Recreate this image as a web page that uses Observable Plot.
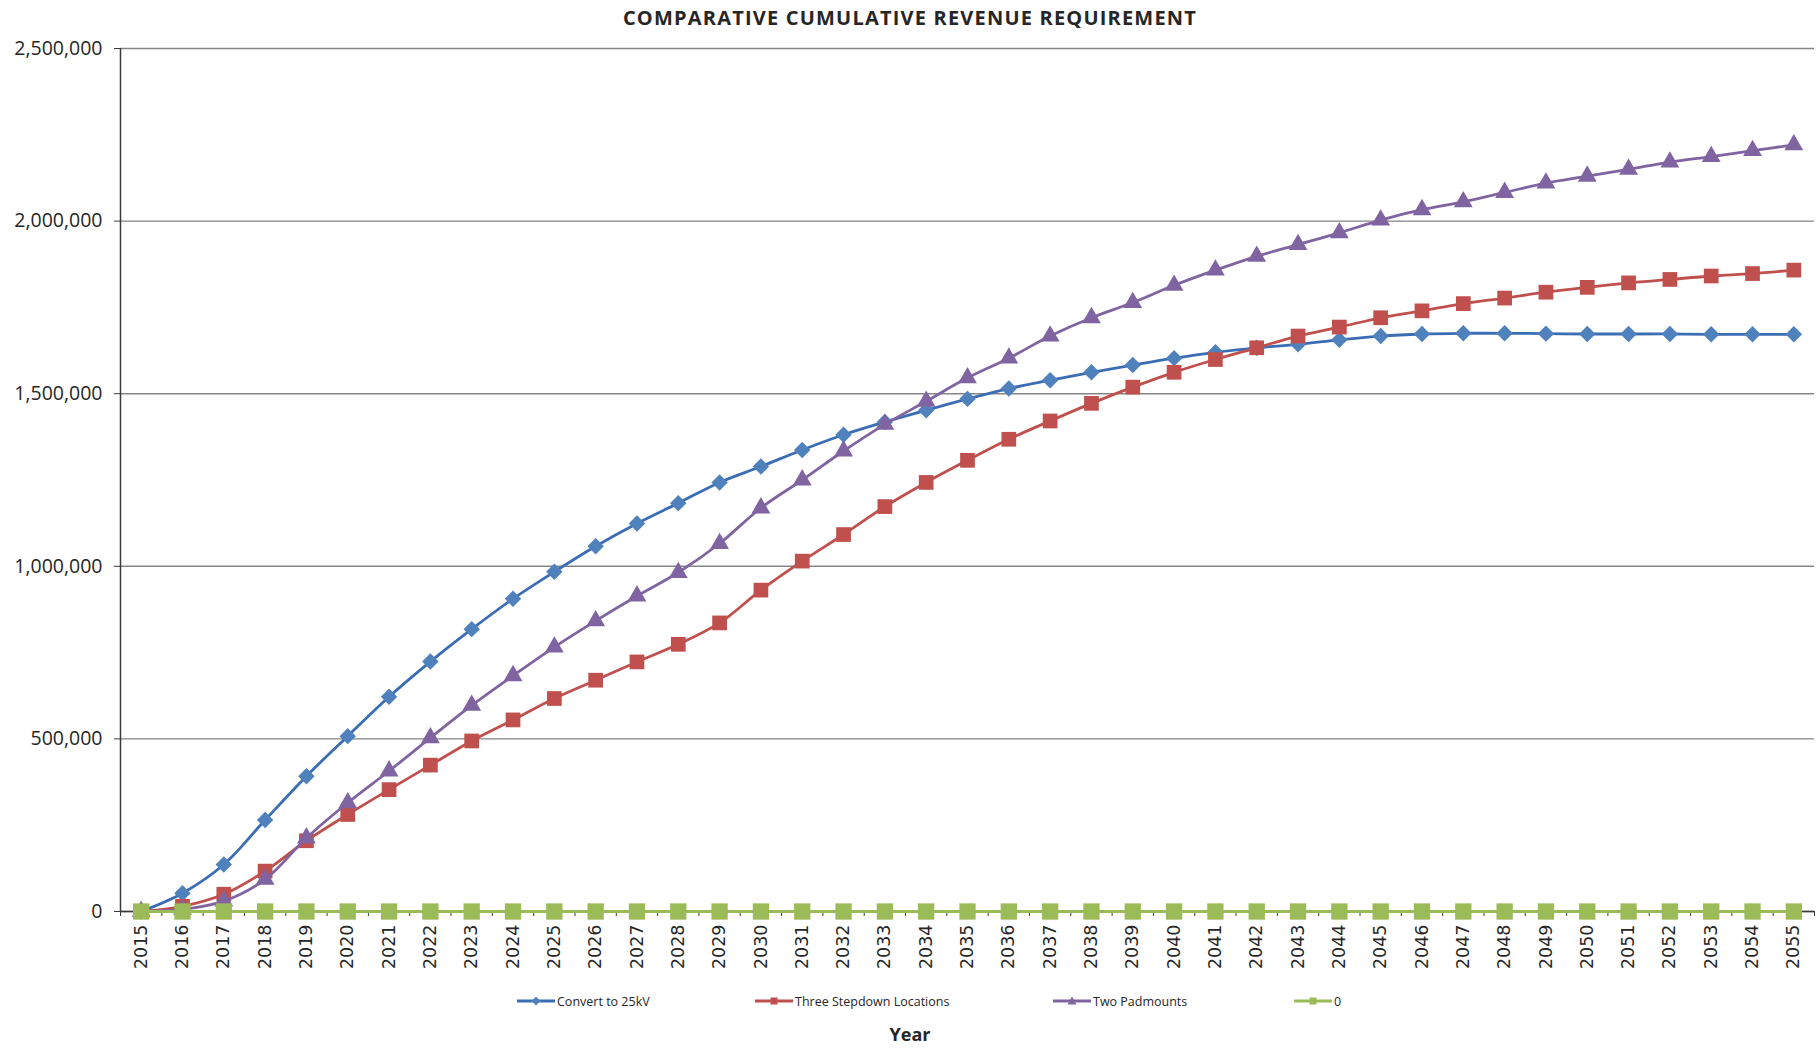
<!DOCTYPE html>
<html>
<head>
<meta charset="utf-8">
<script src="https://cdn.jsdelivr.net/npm/d3@7"></script>
<script src="https://cdn.jsdelivr.net/npm/@observablehq/plot@0.6"></script>
<style>
  html, body { margin: 0; padding: 0; background: #ffffff; }
  body { width: 1820px; height: 1049px; position: relative; overflow: hidden; }
  #title { position: absolute; left: 0; top: 4px; width: 1820px; height: 30px; line-height: 30px;
           text-align: center; font: bold 20px "Open Sans", sans-serif; letter-spacing: 1.2px; color: #262626; }
  #chart { position: absolute; left: 0; top: 34px; }
  .leg { position: absolute; top: 992px; height: 18px; display: flex; align-items: center;
         font: 12.5px "Open Sans", sans-serif; color: #262626; white-space: nowrap; }
  .leg svg { margin-right: 2px; }
  #xlabel { position: absolute; left: 0; top: 1022px; width: 1820px; text-align: center;
            font: bold 18px "Open Sans", sans-serif; color: #262626; }
</style>
</head>
<body>
<div id="title">COMPARATIVE CUMULATIVE REVENUE REQUIREMENT</div>
<div id="chart"></div>
<div id="legend"></div>
<div id="xlabel">Year</div>
<script>
const years = [2015, 2016, 2017, 2018, 2019, 2020, 2021, 2022, 2023, 2024, 2025, 2026, 2027, 2028,
  2029, 2030, 2031, 2032, 2033, 2034, 2035, 2036, 2037, 2038, 2039, 2040, 2041, 2042, 2043, 2044,
  2045, 2046, 2047, 2048, 2049, 2050, 2051, 2052, 2053, 2054, 2055];

const convertTo25kV = [0, 53000, 136000, 265000, 392000, 508000, 622000, 724000, 818000, 906000,
  984000, 1058000, 1124000, 1183000, 1243000, 1289000, 1337000, 1381000, 1418000, 1452000,
  1485000, 1515000, 1539000, 1562000, 1583000, 1603000, 1620000, 1633000, 1643000, 1656000,
  1667000, 1673000, 1675000, 1675000, 1674000, 1673000, 1673000, 1673000, 1672000, 1672000, 1672000];

const threeStepdown = [0, 15000, 50000, 117000, 205000, 281000, 353000, 424000, 494000, 555000,
  617000, 670000, 723000, 774000, 836000, 931000, 1015000, 1092000, 1173000, 1243000,
  1307000, 1368000, 1421000, 1472000, 1519000, 1562000, 1599000, 1633000, 1667000, 1693000,
  1720000, 1740000, 1761000, 1777000, 1794000, 1808000, 1821000, 1831000, 1841000, 1848000, 1858000];

const twoPadmounts = [0, 6000, 30000, 93000, 213000, 315000, 407000, 503000, 597000, 683000,
  766000, 842000, 914000, 982000, 1066000, 1169000, 1250000, 1334000, 1411000, 1478000,
  1546000, 1603000, 1667000, 1720000, 1764000, 1814000, 1858000, 1898000, 1932000, 1966000,
  2003000, 2033000, 2056000, 2083000, 2110000, 2130000, 2150000, 2171000, 2187000, 2204000, 2221000];

const zeroSeries = [0, 0, 0, 0, 0, 0, 0, 0, 0, 0, 0, 0, 0, 0, 0, 0, 0, 0, 0, 0,
  0, 0, 0, 0, 0, 0, 0, 0, 0, 0, 0, 0, 0, 0, 0, 0, 0, 0, 0, 0, 0];

const yTicks = [0, 500000, 1000000, 1500000, 2000000, 2500000];

const seriesNames = ["Convert to 25kV", "Three Stepdown Locations", "Two Padmounts", "0"];
const lineColors = ["#3a6db4", "#c0504d", "#8064a2", "#9bbb59"];
const markColors = ["#4f81bd", "#c0504d", "#8064a2", "#9bbb59"];
const symbols = ["diamond2", "square", "triangle", "square"];
const radii = [7.4, 8.3, 7, 9.2];

const seriesValues = [convertTo25kV, threeStepdown, twoPadmounts, zeroSeries];
const series = seriesValues.map((vals, i) => years.map((yr, j) => ({year: yr, value: vals[j], name: seriesNames[i]})));

const boundaries = years.map(y => y - 0.5).concat([years[years.length - 1] + 0.5]);

const marks = [
  Plot.gridY(yTicks, {stroke: "#858585", strokeOpacity: 1, strokeWidth: 1.4}),
  Plot.ruleX([boundaries[0]], {stroke: "#3a3a3a", strokeWidth: 1.5}),
  Plot.ruleY([0], {stroke: "#3a3a3a", strokeWidth: 1.5}),
  Plot.axisY(yTicks, {tickSize: 6, tickPadding: 12, tickFormat: d3.format(","), fontSize: 19.5,
    fontFamily: "Open Sans", fill: "#262626", stroke: "#3a3a3a", label: null}),
  Plot.axisX(boundaries, {tickSize: 5, tickFormat: () => "", stroke: "#3a3a3a", label: null}),
  Plot.axisX(years, {tickSize: 0, tickPadding: 13, tickRotate: -90, tickFormat: d => String(d),
    fontSize: 17.5, fontFamily: "DejaVu Sans", fill: "#262626", label: null})
];
series.forEach((data, i) => {
  marks.push(Plot.line(data, {x: "year", y: "value", stroke: lineColors[i], strokeWidth: 2.8,
    curve: "catmull-rom"}));
  marks.push(Plot.dot(data, {x: "year", y: "value", symbol: symbols[i], r: radii[i],
    fill: markColors[i], stroke: "none"}));
});

const chart = Plot.plot({
  width: 1820,
  height: 951,
  marginLeft: 120,
  marginRight: 6,
  marginTop: 14,
  marginBottom: 74,
  x: {type: "linear", domain: [boundaries[0], boundaries[boundaries.length - 1]]},
  y: {domain: [0, 2500000]},
  style: {background: "white", overflow: "visible"},
  marks
});
document.getElementById("chart").appendChild(chart);

// legend
const legendX = [517, 755, 1053, 1294];
const legendShapes = [
  '<path d="M19,1.5 L23.5,6 L19,10.5 L14.5,6 Z" />',
  '<rect x="15.5" y="2.5" width="7" height="7" />',
  '<path d="M19,1.5 L23.5,9.5 L14.5,9.5 Z" />',
  '<rect x="15.5" y="2.5" width="7" height="7" />'
];
const legend = document.getElementById("legend");
seriesNames.forEach((name, i) => {
  const d = document.createElement("div");
  d.className = "leg";
  d.style.left = legendX[i] + "px";
  d.innerHTML = `<svg width="38" height="12" viewBox="0 0 38 12"><line x1="0" y1="6" x2="38" y2="6" stroke="${lineColors[i]}" stroke-width="3"/><g fill="${markColors[i]}">${legendShapes[i]}</g></svg><span>${name}</span>`;
  legend.appendChild(d);
});
</script>
</body>
</html>
